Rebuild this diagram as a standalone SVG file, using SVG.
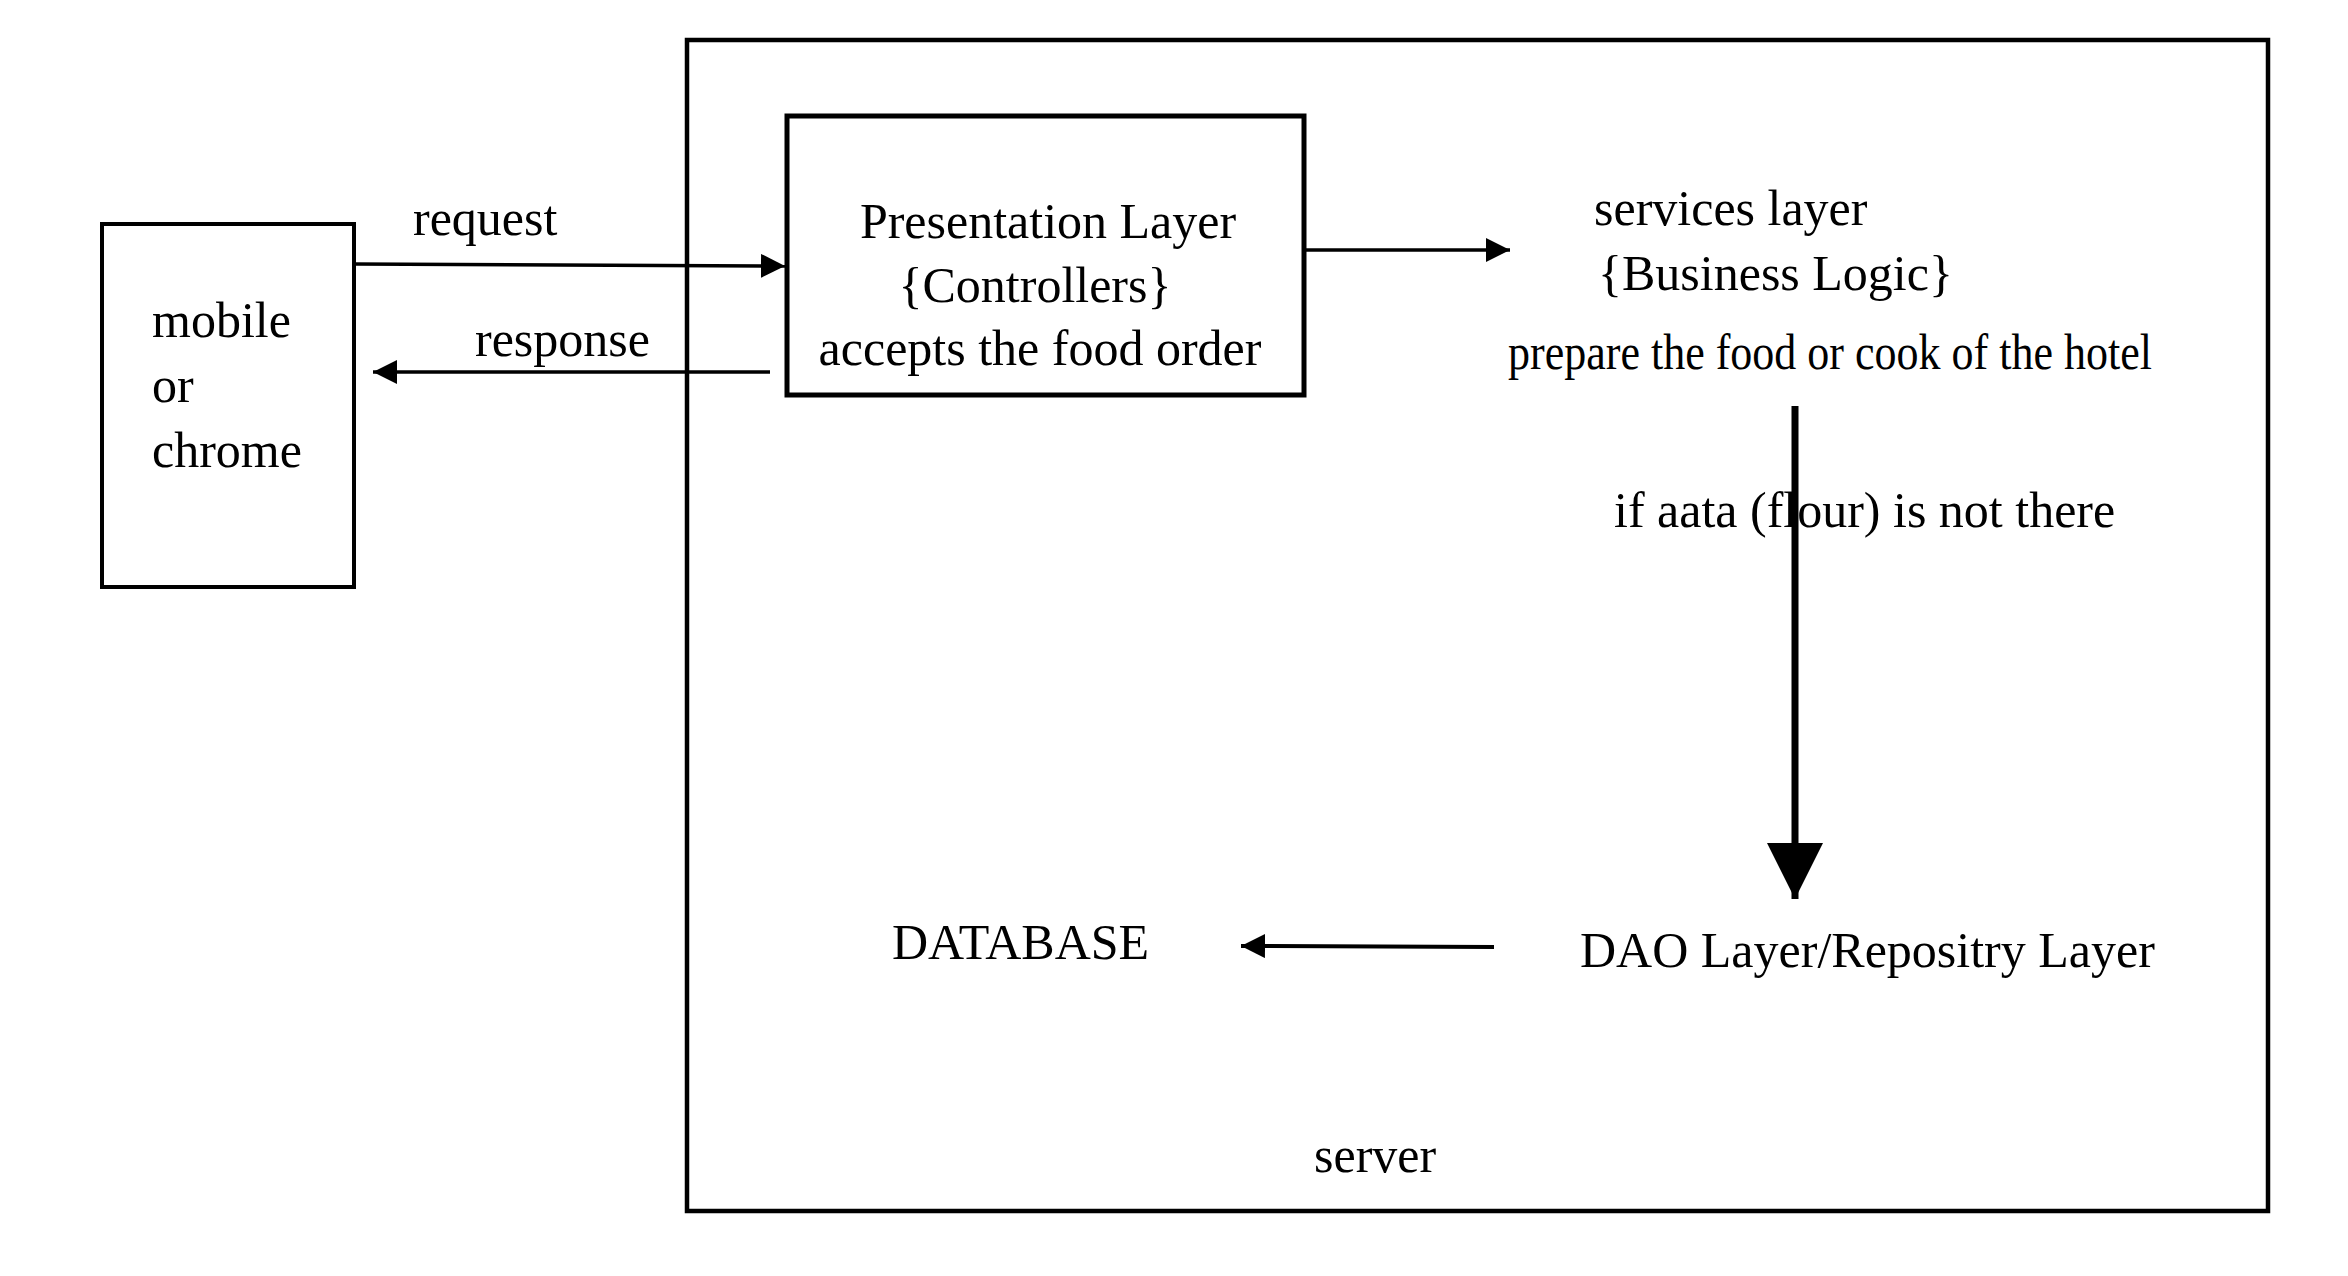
<svg xmlns="http://www.w3.org/2000/svg" width="2348" height="1276" viewBox="0 0 2348 1276">
<style>
  text { font-family: "Liberation Serif", "Times New Roman", serif; fill: #000; font-size: 50px; }
  .box { fill: none; stroke: #000; }
  .conn { fill: none; stroke: #000; stroke-width: 3.5; }
  .conn.thick { stroke-width: 7; }
  .conn.mid { stroke-width: 4; }
</style>
<defs>
  <marker id="arr" markerUnits="userSpaceOnUse" viewBox="0 0 24 24" refX="24" refY="12" markerWidth="24" markerHeight="24" orient="auto">
    <path d="M0,0 L24,12 L0,24 Z" fill="#000"/>
  </marker>
  <marker id="arrBig" markerUnits="userSpaceOnUse" viewBox="0 0 56 56" refX="56" refY="28" markerWidth="56" markerHeight="56" orient="auto">
    <path d="M0,0 L56,28 L0,56 Z" fill="#000"/>
  </marker>
</defs>
<rect width="2348" height="1276" fill="#fff"/>

<g id="server">
  <rect class="box" x="687" y="40" width="1581" height="1171" stroke-width="4.5"/>
  <text x="1314" y="1172">server</text>
</g>

<g id="client">
  <rect class="box" x="102" y="224" width="252" height="363" stroke-width="4"/>
  <text x="152" y="337">mobile</text>
  <text x="152" y="402">or</text>
  <text x="152" y="467">chrome</text>
</g>

<g id="presentation">
  <rect class="box" x="787" y="116" width="517" height="279" stroke-width="5"/>
  <text x="1048" y="238" text-anchor="middle">Presentation Layer</text>
  <text x="1035" y="302" text-anchor="middle">{Controllers}</text>
  <text x="1040" y="365" text-anchor="middle">accepts the food order</text>
</g>

<g id="services">
  <text x="1594" y="225" font-size="49">services layer</text>
  <text x="1598" y="290" font-size="49">{Business Logic}</text>
  <text x="1508" y="369" font-size="47" textLength="644" lengthAdjust="spacingAndGlyphs">prepare the food or cook of the hotel</text>
</g>

<g id="dao">
  <text x="1580" y="967">DAO Layer/Repositry Layer</text>
</g>

<g id="database">
  <text x="892" y="959" font-size="48">DATABASE</text>
</g>

<g id="connectors">
  <line class="conn" x1="354" y1="264" x2="785" y2="266" marker-end="url(#arr)"/>
  <text x="413" y="235">request</text>
  <line class="conn" x1="770" y1="372" x2="373" y2="372" marker-end="url(#arr)"/>
  <text x="475" y="356">response</text>
  <line class="conn" x1="1304" y1="250" x2="1510" y2="250" marker-end="url(#arr)"/>
  <line class="conn thick" x1="1795" y1="406" x2="1795" y2="899" marker-end="url(#arrBig)"/>
  <text x="1614" y="527">if aata (flour) is not there</text>
  <line class="conn mid" x1="1494" y1="947" x2="1241" y2="946" marker-end="url(#arr)"/>
</g>
</svg>
